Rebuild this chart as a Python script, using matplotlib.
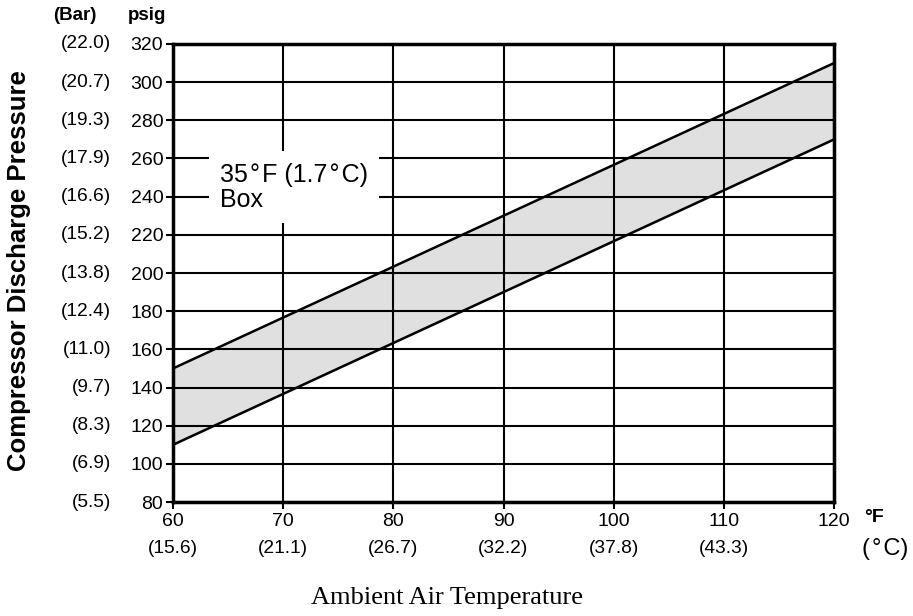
import matplotlib
matplotlib.use("Agg")
import matplotlib.pyplot as plt
import numpy as np

plt.rcParams['font.family'] = ['Liberation Sans', 'DejaVu Sans']

temps_f = [60, 70, 80, 90, 100, 110, 120]
temps_c = ["(15.6)", "(21.1)", "(26.7)", "(32.2)", "(37.8)", "(43.3)", ""]
psig = [80, 100, 120, 140, 160, 180, 200, 220, 240, 260, 280, 300, 320]
bar = ["(5.5)", "(6.9)", "(8.3)", "(9.7)", "(11.0)", "(12.4)", "(13.8)",
       "(15.2)", "(16.6)", "(17.9)", "(19.3)", "(20.7)", "(22.0)"]
band_x = [60, 120]
band_low = [110, 270]
band_high = [150, 310]

HS = "\u200a"

fig = plt.figure(figsize=(9.13, 6.16), dpi=100)
ax = fig.add_axes([0.1895, 0.185, 0.7240, 0.7436])
ax.set_xlim(60, 120)
ax.set_ylim(80, 320)

ax.fill_between(band_x, band_low, band_high, color='#e0e0e0', zorder=1)
ax.plot(band_x, band_low, color='black', lw=1.8, zorder=3)
ax.plot(band_x, band_high, color='black', lw=1.8, zorder=3)

ax.set_xticks(temps_f)
ax.set_yticks(psig)
ax.grid(True, color='black', lw=1.5, zorder=2)
ax.set_axisbelow(False)
for s in ax.spines.values():
    s.set_linewidth(2.5)
    s.set_zorder(4)
ax.tick_params(axis='both', length=5, width=1.5, labelsize=14, color='black')
ax.tick_params(axis='x', pad=3)
ax.tick_params(axis='y', pad=2)

trans_y = ax.get_yaxis_transform()
for v, b in zip(psig, bar):
    ax.text(-0.0938, v, b, transform=trans_y, ha='right', va='center', fontsize=13.8)
trans_x = ax.get_xaxis_transform()
for v, c in zip(temps_f, temps_c):
    ax.text(v, -0.1004, c, transform=trans_x, ha='center', va='center', fontsize=13.8)

fig.text(75/913, 1-15/616, "(Bar)", ha='center', va='center',
         fontsize=13.5, fontweight='bold')
fig.text(147/913, 1-15/616, "psig", ha='center', va='center',
         fontsize=13.5, fontweight='bold')

fig.text(874/913, 1-517/616, "°F", ha='center', va='center', fontsize=14, fontweight='bold')
fig.text(885/913, 1-549/616, "(" + HS + "°" + HS + "C)", ha='center', va='center', fontsize=17)
fig.text(447/913, 1-598/616, "Ambient Air Temperature", ha='center', va='center',
         fontsize=19, family=['Liberation Serif', 'DejaVu Serif'])
fig.text(19/913, 1-271/616, "Compressor Discharge Pressure", rotation=90,
         ha='center', va='center', fontsize=18.5, fontweight='bold')

box_label = "35" + HS + "°" + HS + "F (1.7" + HS + "°" + HS + "C)\nBox"
ax.text(64.27, 245, box_label, ha='left', va='center', fontsize=18,
        linespacing=1.05, zorder=5,
        bbox=dict(facecolor='white', edgecolor='none', boxstyle='square,pad=0.45'))

fig.savefig("out.png", dpi=100)
